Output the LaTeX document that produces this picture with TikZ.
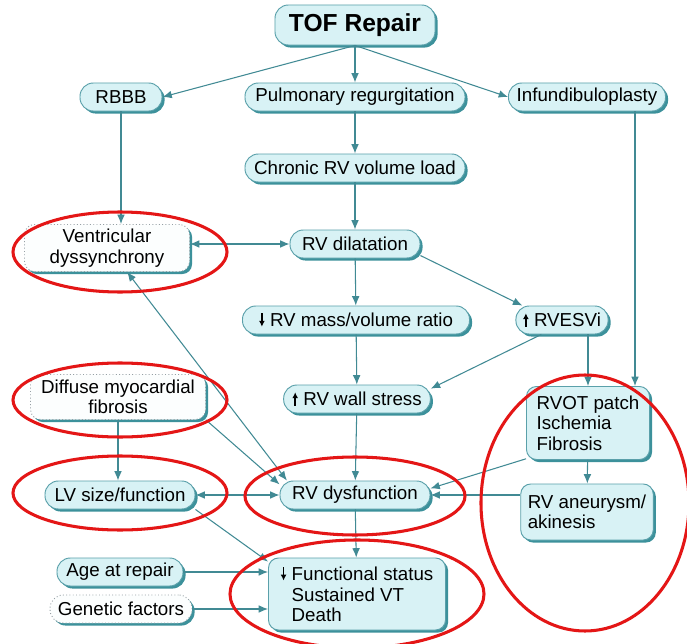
\documentclass[tikz,border=0pt]{standalone}
\usepackage{fontspec}
\setmainfont{Liberation Sans}
\usepackage{tikz}
\usetikzlibrary{arrows.meta, positioning, calc, shadows}
\definecolor{boxfill}{RGB}{216,242,245}
\definecolor{boxborder}{RGB}{90,160,170}
\definecolor{boxshadow}{RGB}{60,145,155}
\definecolor{dotborder}{RGB}{150,160,165}
\definecolor{linkcolor}{RGB}{65,138,148}
\definecolor{ringred}{RGB}{228,22,22}
\tikzset{
    pill/.style={rectangle, draw=boxborder, fill=boxfill, rounded corners=0.4cm, line width=0.8pt,
        minimum height=0.84cm, inner xsep=6pt, align=center, font=\fontsize{16}{17.5}\selectfont,
        drop shadow={shadow xshift=2.2pt, shadow yshift=-2.2pt, fill=boxshadow, opacity=1}},
    card/.style={pill, rounded corners=0.3cm, align=left},
    dotpill/.style={pill, draw=dotborder, dotted, fill=white!92!boxfill},
    arrow/.style={-{Latex[length=2.8mm, width=2.3mm]}, line width=0.9pt, draw=linkcolor},
    twoway/.style={arrow, {Latex[length=2.8mm, width=2.3mm]}-{Latex[length=2.8mm, width=2.3mm]}},
    ring/.style={draw=ringred, line width=2.6pt}
}
\newcommand{\downmark}{\tikz[baseline=0pt]\draw[draw=black, line width=1.4pt, -{Latex[length=5pt, width=5pt]}] (0pt,11.5pt) -- (0pt,0pt);}
\newcommand{\upmark}{\tikz[baseline=0pt]\draw[draw=black, line width=1.4pt, -{Latex[length=5pt, width=5pt]}] (0pt,0pt) -- (0pt,11.5pt);}

\begin{document}
\begin{tikzpicture}[x=0.03cm, y=-0.03cm]

    \useasboundingbox[fill=white] (0,0) rectangle (687,644);

    \node[pill, minimum width=4.8cm, minimum height=1.2cm, font=\fontsize{21}{24}\selectfont\bfseries] (tof) at (355,25) {TOF Repair};

    \node[pill, minimum width=2.46cm] (rbbb) at (121,97) {RBBB};
    \node[pill, minimum width=6.6cm] (pulm) at (355,97) {Pulmonary regurgitation};
    \node[pill, minimum width=4.71cm] (inf) at (587,97) {Infundibuloplasty};
    \node[pill, minimum width=6.6cm] (chronic) at (355,168) {Chronic RV volume load};

    \node[dotpill, minimum width=4.95cm, minimum height=1.41cm, rounded corners=0.3cm] (dys) at (107,248) {Ventricular\\dyssynchrony};
    \node[pill, minimum width=3.9cm] (dil) at (355,244) {RV dilatation};

    \node[pill, minimum width=6.81cm] (mass) at (356,320) {\downmark\ RV mass/volume ratio};
    \node[pill, minimum width=2.13cm] (rvesvi) at (562,320) {\upmark\ RVESVi};

    \node[dotpill, minimum width=5.25cm, minimum height=1.35cm, rounded corners=0.3cm] (dif) at (118,397) {Diffuse myocardial\\fibrosis};
    \node[pill, minimum width=4.4cm] (ws) at (357,399) {\upmark\ RV wall stress};
    \node[card, minimum width=3.69cm, minimum height=2.19cm] (rvot) at (588,423) {RVOT patch\\Ischemia\\Fibrosis};

    \node[pill, minimum width=4.5cm] (lv) at (120,495) {LV size/function};
    \node[pill, minimum width=4.5cm] (rvdys) at (355,495) {RV dysfunction};
    \node[card, minimum width=3.78cm, minimum height=1.68cm] (aneu) at (587,512) {RV aneurysm/\\akinesis};

    \node[pill, minimum width=3.78cm] (age) at (120,572) {Age at repair};
    \node[dotpill, minimum width=4.26cm] (gen) at (121,609) {Genetic factors};
    \node[card, minimum width=5.31cm, minimum height=2.16cm] (func) at (357,594)
        {\downmark\ Functional status\\\hphantom{\downmark\ }Sustained VT\\\hphantom{\downmark\ }Death};

    \draw[arrow] (tof.south) -- (rbbb.east);
    \draw[arrow] (tof) -- (pulm);
    \draw[arrow] (tof.south) -- (inf.west);
    \draw[arrow] (pulm) -- (chronic);
    \draw[arrow] (chronic) -- (dil);
    \draw[arrow] (rbbb.south) -- (rbbb.south |- dys.north);
    \draw[twoway] (dys.east |- dil) -- (dil.west);
    \draw[arrow] (dil) -- (mass);
    \draw[arrow] (dil.-10) -- (rvesvi.160);
    \draw[arrow] (mass) -- (ws);
    \draw[arrow] (rvesvi.215) -- (ws.8);
    \draw[arrow] (rvesvi.south -| rvot.north) -- (rvot.north);
    \coordinate (infdrop) at ($(inf.south)+(48,0)$);
    \draw[arrow] (infdrop) -- (infdrop |- rvot.north);
    \draw[arrow] (rvot) -- (aneu);
    \draw[arrow] (ws) -- (rvdys);
    \draw[arrow] (rvot.210) -- (rvdys.5);
    \draw[arrow] (aneu.west |- rvdys) -- (rvdys.east);
    \draw[arrow] (dif.south) -- (dif.south |- lv.north);
    \draw[arrow] (dif.south east) -- (rvdys.172);
    \draw[twoway] (dys.-50) -- (rvdys.168);
    \draw[twoway] (lv) -- (rvdys);
    \draw[arrow] (lv.south east) -- (func.160);
    \draw[arrow] (rvdys) -- (func);
    \draw[arrow] (age) -- (age -| func.west);
    \draw[arrow] (gen) -- (gen -| func.west);

    \draw[ring] (120,252) ellipse [x radius=107, y radius=40];
    \draw[ring] (120,400) ellipse [x radius=107, y radius=37];
    \draw[ring] (120,493) ellipse [x radius=107, y radius=37];
    \draw[ring] (355,496) ellipse [x radius=110, y radius=39];
    \draw[ring] (585,503) ellipse [x radius=104, y radius=128];
    \draw[ring] (357,594) ellipse [x radius=127, y radius=54];

\end{tikzpicture}
\end{document}
